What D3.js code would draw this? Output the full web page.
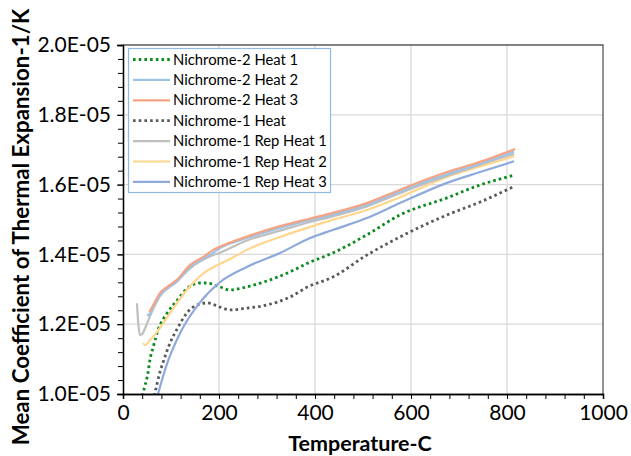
<!DOCTYPE html>
<html><head><meta charset="utf-8">
<script src="https://cdn.jsdelivr.net/npm/d3@7"></script>
<style>body{margin:0;background:#fff;} svg{display:block;font-family:Lato,"Open Sans",sans-serif;}</style>
</head><body>
<svg id="chart" width="631" height="456"></svg>
<script>
// ---- data (temperature in C, mean CTE in 1/K) ----
const seriesNames = ["Nichrome-2 Heat 1","Nichrome-2 Heat 2","Nichrome-2 Heat 3","Nichrome-1 Heat","Nichrome-1 Rep Heat 1","Nichrome-1 Rep Heat 2","Nichrome-1 Rep Heat 3"];
const seriesColors = ["#0a8a1e","#9dc3e6","#f4a485","#595959","#bfbfbf","#ffd68c","#8ea9dc"];
const seriesDotted = [true,false,false,true,false,false,false];

const n2h1T = [40, 45, 52, 56, 63, 73, 92, 113, 135, 160, 175, 202, 223, 258, 300, 348, 385, 437, 508, 577, 675, 744, 815];
const n2h1V = [0.995, 1.02, 1.06, 1.097, 1.135, 1.183, 1.232, 1.269, 1.304, 1.318, 1.318, 1.307, 1.298, 1.307, 1.324, 1.350, 1.375, 1.404, 1.456, 1.513, 1.562, 1.599, 1.627];

const n2h2T = [50, 56, 65, 77, 95, 112, 140, 170, 188, 202, 258, 327, 390, 437, 508, 550, 602, 675, 744, 815];
const n2h2V = [1.225, 1.23, 1.255, 1.283, 1.305, 1.322, 1.365, 1.390, 1.405, 1.418, 1.447, 1.476, 1.499, 1.514, 1.542, 1.565, 1.594, 1.630, 1.660, 1.695];

const n2h3T = [55, 65, 77, 95, 112, 140, 170, 188, 202, 258, 327, 390, 437, 508, 550, 602, 675, 744, 817];
const n2h3V = [1.235, 1.26, 1.289, 1.31, 1.327, 1.370, 1.395, 1.413, 1.422, 1.451, 1.481, 1.503, 1.519, 1.547, 1.570, 1.599, 1.636, 1.665, 1.702];

const n1hT = [65, 67, 77, 83, 98, 115, 133, 146, 175, 202, 223, 258, 300, 348, 385, 437, 508, 577, 675, 744, 812];
const n1hV = [0.995, 1.006, 1.063, 1.089, 1.146, 1.192, 1.232, 1.249, 1.261, 1.249, 1.241, 1.246, 1.255, 1.278, 1.307, 1.335, 1.398, 1.450, 1.513, 1.550, 1.593];

const n1r1T = [29, 32, 35, 40, 48, 56, 77, 112, 140, 188, 202, 258, 327, 390, 437, 508, 550, 602, 675, 744, 815];
const n1r1V = [1.26, 1.20, 1.169, 1.172, 1.195, 1.222, 1.28, 1.322, 1.360, 1.398, 1.405, 1.440, 1.468, 1.493, 1.509, 1.537, 1.560, 1.589, 1.625, 1.657, 1.688];

const n1r2T = [42, 46, 55, 71, 98, 133, 167, 195, 223, 258, 327, 390, 437, 508, 577, 675, 744, 815];
const n1r2V = [1.146, 1.140, 1.152, 1.178, 1.232, 1.298, 1.345, 1.368, 1.387, 1.413, 1.450, 1.479, 1.499, 1.527, 1.564, 1.622, 1.652, 1.681];

const n1r3T = [72, 73, 90, 119, 160, 200, 258, 327, 390, 437, 508, 577, 675, 744, 815];
const n1r3V = [0.995, 1.0, 1.08, 1.175, 1.262, 1.318, 1.364, 1.404, 1.447, 1.470, 1.504, 1.547, 1.605, 1.636, 1.667];

const seriesT = [n2h1T, n2h2T, n2h3T, n1hT, n1r1T, n1r2T, n1r3T];
const seriesV = [n2h1V, n2h2V, n2h3V, n1hV, n1r1V, n1r2V, n1r3V];
const valueScale = 1e-5;

const xTicks = [0, 200, 400, 600, 800, 1000];
const yTicks = [1.0e-5, 1.2e-5, 1.4e-5, 1.6e-5, 1.8e-5, 2.0e-5];
const xTitle = "Temperature-C";
const yTitle = "Mean Coefficient of Thermal Expansion-1/K";

// ---- drawing ----
const svg = d3.select("#chart");
const m = {left:123, right:603, top:45, bottom:394};
const x = d3.scaleLinear().domain([0,1000]).range([m.left, m.right]);
const y = d3.scaleLinear().domain([1e-5, 2e-5]).range([m.bottom, m.top]);

// gridlines
svg.append("g").selectAll("line").data(xTicks.slice(1,-1)).join("line")
  .attr("x1", d=>x(d)).attr("x2", d=>x(d)).attr("y1", m.top).attr("y2", m.bottom)
  .attr("stroke","#d9d9d9").attr("stroke-width",1.3);
svg.append("g").selectAll("line").data(yTicks.slice(1,-1)).join("line")
  .attr("y1", d=>y(d)).attr("y2", d=>y(d)).attr("x1", m.left).attr("x2", m.right)
  .attr("stroke","#d9d9d9").attr("stroke-width",1.3);

// border top/right
svg.append("path").attr("d", `M${m.left},${m.top}H${m.right}V${m.bottom}`)
  .attr("fill","none").attr("stroke","#595959").attr("stroke-width",1.3);

// clip
svg.append("clipPath").attr("id","clip").append("rect")
  .attr("x", m.left).attr("y", m.top).attr("width", m.right-m.left).attr("height", m.bottom-m.top);

const line = d3.line().x(d=>x(d[0])).y(d=>y(d[1])).curve(d3.curveMonotoneX);
const g = svg.append("g").attr("clip-path","url(#clip)");
const order = [3,0,6,5,4,1,2];
order.forEach(i => {
  const pts = seriesT[i].map((t,k)=>[t, seriesV[i][k]*valueScale]);
  const p = g.append("path").datum(pts).attr("d", line)
    .attr("fill","none").attr("stroke", seriesColors[i]);
  if (seriesDotted[i]) p.attr("stroke-width",2.8).attr("stroke-dasharray","2.6,3.1");
  else p.attr("stroke-width",2.2).attr("stroke-linejoin","round");
});

// axes
const fmt = d => (d/valueScale).toFixed(1) + "E-05";
const xAxis = d3.axisBottom(x).tickValues(xTicks).tickSize(5).tickPadding(6).tickFormat(d3.format("d"));
const xMinor = d3.axisBottom(x).tickValues(d3.range(0,1001,40)).tickSize(5).tickFormat("");
const yAxis = d3.axisLeft(y).tickValues(yTicks).tickSize(6).tickPadding(6).tickFormat(fmt);
const yMinor = d3.axisLeft(y).tickValues(d3.range(0,26).map(k=>1e-5 + k*0.04e-5)).tickSize(5).tickFormat("");

function style(sel){
  sel.selectAll("path.domain").attr("stroke","#000").attr("stroke-width",1.3);
  sel.selectAll("line").attr("stroke","#000").attr("stroke-width",1);
  sel.selectAll("text").attr("font-family","Lato, 'Open Sans', sans-serif").attr("font-size",21).attr("fill","#000");
}
svg.append("g").attr("transform",`translate(0,${m.bottom})`).call(xMinor).call(style);
svg.append("g").attr("transform",`translate(0,${m.bottom})`).call(xAxis).call(style);
svg.append("g").attr("transform",`translate(${m.left},0)`).call(yMinor).call(style);
svg.append("g").attr("transform",`translate(${m.left},0)`).call(yAxis).call(style);

// titles
svg.append("text").attr("x", 360).attr("y", 451).attr("text-anchor","middle")
  .attr("font-weight","bold").attr("font-size",21.5).text(xTitle);
svg.append("text").attr("transform","translate(29,227) rotate(-90)").attr("text-anchor","middle")
  .attr("font-weight","bold").attr("font-size",22.3).text(yTitle);

// legend
const lg = svg.append("g");
lg.append("rect").attr("x",128.5).attr("y",48.5).attr("width",202).attr("height",144)
  .attr("fill","#fff").attr("stroke","#8dbbe6").attr("stroke-width",1.2);
seriesNames.forEach((name,i) => {
  const cy = 59.5 + i*20.4;
  const l = lg.append("line").attr("x1",133).attr("x2",170).attr("y1",cy).attr("y2",cy)
    .attr("stroke", seriesColors[i]);
  if (seriesDotted[i]) l.attr("stroke-width",2.8).attr("stroke-dasharray","2.6,3.1");
  else l.attr("stroke-width",2.2);
  lg.append("text").attr("x",173).attr("y",cy).attr("dy","0.35em")
    .attr("font-size",14.8).attr("fill","#000").text(name);
});
</script>
</body></html>
